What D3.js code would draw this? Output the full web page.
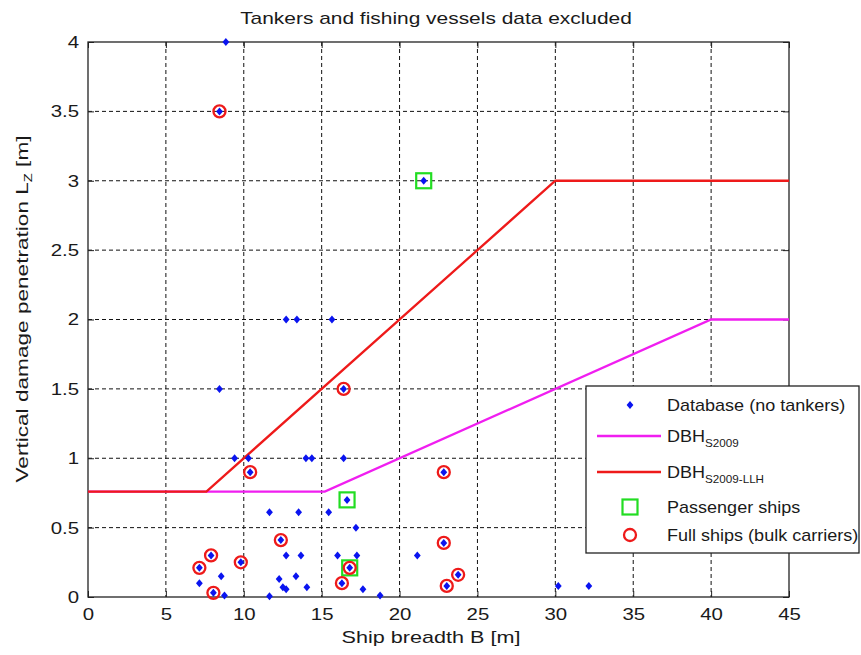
<!DOCTYPE html>
<html>
<head>
<meta charset="utf-8">
<script src="https://cdn.jsdelivr.net/npm/d3@7"></script>
<style>
  html, body { margin: 0; padding: 0; background: #fff; }
  svg { display: block; }
  text { font-family: "Liberation Sans", Arial, Helvetica, sans-serif; fill: #1a1a1a; }
</style>
</head>
<body>
<svg id="chart" width="861" height="655"></svg>
<script>
// Ship damage database (breadth B [m], vertical penetration Lz [m])
const dbBreadth = [8.85, 8.44, 21.55, 12.72, 13.41, 15.66, 8.44, 16.41, 9.41, 10.3,
  13.99, 14.37, 16.41, 10.41, 22.84, 16.63, 11.65, 13.52, 15.45, 17.2,
  12.38, 22.84, 7.9, 12.72, 13.67, 16.02, 17.26, 21.14, 9.81, 7.15,
  16.8, 23.76, 8.55, 13.35, 12.27, 7.15, 16.3, 23.03, 30.19, 32.15,
  12.51, 14.05, 12.72, 17.65, 8.05, 8.76, 11.65, 18.75];
const dbPenetration = [4.0, 3.5, 3.0, 2.0, 2.0, 2.0, 1.5, 1.5, 1.0, 1.0,
  1.0, 1.0, 1.0, 0.9, 0.9, 0.7, 0.61, 0.61, 0.61, 0.5,
  0.41, 0.39, 0.3, 0.3, 0.3, 0.3, 0.3, 0.3, 0.25, 0.21,
  0.21, 0.16, 0.15, 0.15, 0.13, 0.1, 0.1, 0.08, 0.08, 0.08,
  0.07, 0.07, 0.055, 0.055, 0.03, 0.01, 0.005, 0.01];

// Passenger ships
const paxBreadth = [21.55, 16.63, 16.8];
const paxPenetration = [3.0, 0.7, 0.21];

// Full ships (bulk carriers)
const fullBreadth = [8.44, 16.41, 10.41, 22.84, 12.38, 22.84, 7.9, 9.81, 7.15, 16.8, 23.76, 16.3, 23.03, 8.05];
const fullPenetration = [3.5, 1.5, 0.9, 0.9, 0.41, 0.39, 0.3, 0.25, 0.21, 0.21, 0.16, 0.1, 0.08, 0.03];

// Double-bottom height criteria
const dbhS2009B = [0, 15.2, 40, 45];
const dbhS2009Lz = [0.76, 0.76, 2.0, 2.0];
const dbhLlhB = [0, 7.6, 30, 45];
const dbhLlhLz = [0.76, 0.76, 3.0, 3.0];

const xTicks = [0, 5, 10, 15, 20, 25, 30, 35, 40, 45];
const yTicks = [0, 0.5, 1, 1.5, 2, 2.5, 3, 3.5, 4];

const svg = d3.select("#chart");
const L = 88, R = 789, T = 42, B = 597;
const x = d3.scaleLinear().domain([0, 45]).range([L, R]);
const y = d3.scaleLinear().domain([0, 4]).range([B, T]);

const FS = 17;
// widen glyphs horizontally by factor k
function stretch(sel, k) {
  sel.each(function () {
    const w = this.getComputedTextLength();
    d3.select(this).attr("textLength", w * k).attr("lengthAdjust", "spacingAndGlyphs");
  });
}

// grid
const grid = svg.append("g").attr("stroke", "#111").attr("stroke-width", 1).attr("stroke-dasharray", "4,3");
grid.selectAll(".gx").data(xTicks.slice(1, -1)).join("line")
  .attr("x1", d => x(d)).attr("x2", d => x(d)).attr("y1", T).attr("y2", B);
grid.selectAll(".gy").data(yTicks.slice(1, -1)).join("line")
  .attr("x1", L).attr("x2", R).attr("y1", d => y(d)).attr("y2", d => y(d));

// axes (ticks pointing inward, MATLAB style)
const tickLen = 6;
const axB = svg.append("g").attr("transform", `translate(0,${B})`)
  .call(d3.axisBottom(x).tickValues(xTicks).tickSizeInner(-tickLen).tickSizeOuter(0).tickPadding(11).tickFormat(d3.format("d")));
const axT = svg.append("g").attr("transform", `translate(0,${T})`)
  .call(d3.axisTop(x).tickValues(xTicks).tickSizeInner(-tickLen).tickSizeOuter(0).tickFormat(""));
const axL = svg.append("g").attr("transform", `translate(${L},0)`)
  .call(d3.axisLeft(y).tickValues(yTicks).tickSizeInner(-tickLen).tickSizeOuter(0).tickPadding(9).tickFormat(d => d3.format("")(d)));
const axR = svg.append("g").attr("transform", `translate(${R},0)`)
  .call(d3.axisRight(y).tickValues(yTicks).tickSizeInner(-tickLen).tickSizeOuter(0).tickFormat(""));
[axB, axT, axL, axR].forEach(a => {
  a.select(".domain").remove();
  a.selectAll(".tick line").attr("stroke", "#222").attr("stroke-width", 1);
  a.selectAll("text").attr("font-size", FS).attr("fill", "#1a1a1a").attr("font-family", null);
});
axB.selectAll(".tick text").call(stretch, 1.2);
axL.selectAll(".tick text").call(stretch, 1.2);

// frame
svg.append("rect").attr("x", L).attr("y", T).attr("width", R - L).attr("height", B - T)
  .attr("fill", "none").attr("stroke", "#222").attr("stroke-width", 1.3);

// criteria lines
const line = d3.line().x(d => x(d[0])).y(d => y(d[1]));
svg.append("path").datum(dbhS2009B.map((b, i) => [b, dbhS2009Lz[i]]))
  .attr("d", line).attr("fill", "none").attr("stroke", "#f01ef0").attr("stroke-width", 2.3);
svg.append("path").datum(dbhLlhB.map((b, i) => [b, dbhLlhLz[i]]))
  .attr("d", line).attr("fill", "none").attr("stroke", "#ee1a1a").attr("stroke-width", 2.3);

// markers
const diamond = "M0,-4L3.4,0L0,4L-3.4,0Z";
svg.append("g").selectAll("path").data(dbBreadth.map((b, i) => [b, dbPenetration[i]])).join("path")
  .attr("d", diamond).attr("transform", d => `translate(${x(d[0])},${y(d[1])})`).attr("fill", "#0a14f0");
svg.append("g").selectAll("rect").data(paxBreadth.map((b, i) => [b, paxPenetration[i]])).join("rect")
  .attr("x", d => x(d[0]) - 7.5).attr("y", d => y(d[1]) - 7.5).attr("width", 15).attr("height", 15)
  .attr("fill", "none").attr("stroke", "#22dd22").attr("stroke-width", 2.2);
svg.append("g").selectAll("circle").data(fullBreadth.map((b, i) => [b, fullPenetration[i]])).join("circle")
  .attr("cx", d => x(d[0])).attr("cy", d => y(d[1])).attr("r", 6)
  .attr("fill", "none").attr("stroke", "#ee1a1a").attr("stroke-width", 2.3);

// title and labels
svg.append("text").attr("x", 436).attr("y", 24).attr("text-anchor", "middle")
  .attr("font-size", FS).text("Tankers and fishing vessels data excluded").call(stretch, 1.23);
svg.append("text").attr("x", 431).attr("y", 643).attr("text-anchor", "middle")
  .attr("font-size", FS).text("Ship breadth B [m]").call(stretch, 1.27);
const yl = svg.append("text").attr("transform", `translate(28,309) rotate(-90)`)
  .attr("text-anchor", "middle").attr("font-size", FS);
yl.append("tspan").text("Vertical damage penetration L");
yl.append("tspan").attr("font-size", 11).attr("dy", 4).text("Z");
yl.append("tspan").attr("dy", -4).text(" [m]");
yl.call(stretch, 1.33);

// legend
const lg = svg.append("g");
lg.append("rect").attr("x", 586).attr("y", 386).attr("width", 273).attr("height", 167)
  .attr("fill", "#fff").attr("stroke", "#222").attr("stroke-width", 1.3);
const rows = [405, 436, 472, 507, 535];
const tx = 667;
lg.append("path").attr("d", diamond).attr("transform", `translate(630,${rows[0]})`).attr("fill", "#0a14f0");
lg.append("line").attr("x1", 597).attr("x2", 661).attr("y1", rows[1]).attr("y2", rows[1])
  .attr("stroke", "#f01ef0").attr("stroke-width", 2.3);
lg.append("line").attr("x1", 597).attr("x2", 661).attr("y1", rows[2]).attr("y2", rows[2])
  .attr("stroke", "#ee1a1a").attr("stroke-width", 2.3);
lg.append("rect").attr("x", 630 - 7.5).attr("y", rows[3] - 7.5).attr("width", 15).attr("height", 15)
  .attr("fill", "none").attr("stroke", "#22dd22").attr("stroke-width", 2.2);
lg.append("circle").attr("cx", 630).attr("cy", rows[4]).attr("r", 6)
  .attr("fill", "none").attr("stroke", "#ee1a1a").attr("stroke-width", 2.3);

const LK = 1.06;
lg.append("text").attr("x", tx).attr("y", rows[0] + 6).attr("font-size", FS).text("Database (no tankers)").call(stretch, LK);
const t1 = lg.append("text").attr("x", tx).attr("y", rows[1] + 6).attr("font-size", FS);
t1.append("tspan").text("DBH");
t1.append("tspan").attr("font-size", 11).attr("dy", 5).text("S2009");
t1.call(stretch, LK);
const t2 = lg.append("text").attr("x", tx).attr("y", rows[2] + 6).attr("font-size", FS);
t2.append("tspan").text("DBH");
t2.append("tspan").attr("font-size", 11).attr("dy", 5).text("S2009-LLH");
t2.call(stretch, LK);
lg.append("text").attr("x", tx).attr("y", rows[3] + 6).attr("font-size", FS).text("Passenger ships").call(stretch, LK);
lg.append("text").attr("x", tx).attr("y", rows[4] + 6).attr("font-size", FS).text("Full ships (bulk carriers)").call(stretch, LK);
</script>
</body>
</html>
